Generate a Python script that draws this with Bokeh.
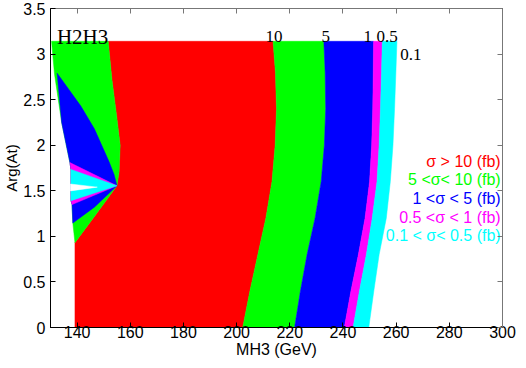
from bokeh.plotting import figure
from bokeh.models import FixedTicker, LinearAxis, Range1d
from bokeh.embed import file_html
from bokeh.resources import INLINE
from bokeh.core.properties import value

# ---------------- data ----------------
x_ticks = [140, 160, 180, 200, 220, 240, 260, 280, 300]
y_ticks = [0, 0.5, 1, 1.5, 2, 2.5, 3, 3.5]

# Arg(At) levels at which the right-hand contours were read
y_levels = [0.0, 0.4, 0.8, 1.2, 1.6, 2.0, 2.4, 2.8, 3.14]
c10 = [202.3, 205.0, 208.0, 211.0, 213.3, 214.5, 215.0, 214.6, 213.7]
c5 = [221.8, 224.0, 226.5, 229.5, 231.8, 233.0, 233.5, 233.3, 232.8]
c1 = [240.5, 243.0, 245.8, 248.3, 250.0, 250.8, 251.2, 251.4, 251.5]
c05 = [243.8, 246.2, 248.8, 251.0, 252.8, 253.6, 254.1, 254.5, 254.8]
c01 = [249.7, 251.6, 253.6, 256.3, 257.8, 258.8, 259.4, 259.9, 260.3]

# left (low MH3) side: boundary of the sigma > 10 region
red_left_x = [139.2, 139.2, 146.8, 155.0, 155.8, 156.2, 154.7, 153.1, 151.7]
red_left_y = [0.0, 0.931, 1.23, 1.555, 1.71, 2.0, 2.36, 2.72, 3.14]

# outer edge of the computed region (top -> bottom)
edge_x = [130.4, 131.5, 134.2, 137.3, 137.7, 137.7, 138.1, 138.4, 139.2]
edge_y = [3.14, 2.78, 2.25, 1.809, 1.734, 1.392, 1.349, 1.146, 0.931]

# blue fan (1 < sigma < 5) upper boundary, tip -> apex, and lower boundary
blue_up_x = [132.5, 141.4, 146.5, 152.0, 153.9, 155.0]
blue_up_y = [2.79, 2.43, 2.18, 1.82, 1.68, 1.555]
blue_lo_x = [146.5, 138.4]
blue_lo_y = [1.32, 1.146]

# magenta / cyan / empty wedges toward the apex
mag_x = [137.3, 155.0, 138.1, 137.7, 137.7]
mag_y = [1.809, 1.555, 1.349, 1.392, 1.734]
cyan_x = [137.7, 155.0, 137.7]
cyan_y = [1.734, 1.555, 1.392]
hole_x = [137.5, 147.6, 137.5]
hole_y = [1.574, 1.54, 1.499]

colors = ["#ff0000", "#00ff00", "#0000ff", "#ff00ff", "#00ffff"]
legend_text = ["σ > 10 (fb)", "5 <σ< 10 (fb)", "1 <σ < 5 (fb)",
               "0.5 <σ < 1 (fb)", "0.1 < σ< 0.5 (fb)"]
contour_labels = ["10", "5", "1", "0.5"]
contour_label_x = [214.1, 233.5, 249.3, 256.6]

# ---------------- figure ----------------
p = figure(width=518, height=360, x_range=Range1d(130, 300), y_range=Range1d(0, 3.5),
           output_backend="svg", toolbar_location=None,
           min_border_left=40, min_border_right=16, min_border_top=8, min_border_bottom=20)
p.grid.visible = False
p.outline_line_color = "black"
p.background_fill_color = "white"

rev = lambda a: list(reversed(a))

# sigma > 10 : red
p.patch(red_left_x + rev(c10), red_left_y + rev(y_levels), color=colors[0], line_width=0.5)
# right bands
p.patch(c10 + rev(c5), y_levels + rev(y_levels), color=colors[1], line_width=0.5)
p.patch(c5 + rev(c1), y_levels + rev(y_levels), color=colors[2], line_width=0.5)
p.patch(c1 + rev(c05), y_levels + rev(y_levels), color=colors[3], line_width=0.5)
p.patch(c05 + rev(c01), y_levels + rev(y_levels), color=colors[4], line_width=0.5)
# left fan
p.patch(edge_x + red_left_x[1:], edge_y + red_left_y[1:], color=colors[1], line_width=0.5)
p.patch(blue_up_x + blue_lo_x + rev(edge_x[2:7]), blue_up_y + blue_lo_y + rev(edge_y[2:7]),
        color=colors[2], line_width=0.5)
p.patch(mag_x, mag_y, color=colors[3], line_width=0.5)
p.patch(cyan_x, cyan_y, color=colors[4], line_width=0.5)
p.patch(hole_x, hole_y, color="white", line_width=0.5)

# annotations
p.text(x=[132.4], y=[3.185], text=["H2H3"], text_font=value("Liberation Serif"),
       text_font_size="21px", text_align="left", text_baseline="alphabetic", text_color="black")
p.text(x=contour_label_x, y=[3.19] * 4, text=contour_labels, text_font=value("Liberation Serif"),
       text_font_size="17px", text_align="center", text_baseline="alphabetic", text_color="black")
p.text(x=[265.5], y=[2.99], text=["0.1"], text_font=value("Liberation Serif"),
       text_font_size="17px", text_align="center", text_baseline="alphabetic", text_color="black")
p.text(x=[299.3] * 5, y=[1.82, 1.62, 1.41, 1.21, 1.01], text=legend_text, text_color=colors,
       text_font=value("Liberation Sans"), text_font_size="16px",
       text_align="right", text_baseline="middle")

# axes
for ax in (p.xaxis[0], p.yaxis[0]):
    ax.major_tick_in = 5
    ax.major_tick_out = 0
    ax.minor_tick_line_color = None
    ax.axis_line_color = "black"
    ax.major_tick_line_color = "black"
    ax.major_label_text_font = "Liberation Sans"
    ax.major_label_text_font_size = "16px"
    ax.major_label_text_color = "black"
    ax.axis_label_text_font = "Liberation Sans"
    ax.axis_label_text_font_size = "15px"
    ax.axis_label_text_font_style = "normal"
    ax.axis_label_text_color = "black"
    ax.axis_label_standoff = 0
p.xaxis.ticker = FixedTicker(ticks=x_ticks)
p.yaxis.ticker = FixedTicker(ticks=y_ticks)
p.xaxis.axis_label = "MH3 (GeV)"
p.yaxis.axis_label = "Arg(At)"
p.xaxis.major_label_standoff = -2
p.xaxis.axis_label_standoff = 0
p.xaxis.axis_label_text_font_size = "16px"
p.yaxis.major_label_standoff = 5

for ticks, side in ((x_ticks, "above"), (y_ticks, "right")):
    ax = LinearAxis(ticker=FixedTicker(ticks=ticks), major_tick_in=5, major_tick_out=0,
                    minor_tick_line_color=None,
                    major_label_overrides={t: "" for t in ticks},
                    major_label_standoff=0, axis_line_color="#777777",
                    major_tick_line_color="#777777")
    p.add_layout(ax, side)

open("out.html", "w").write(file_html(p, INLINE))
